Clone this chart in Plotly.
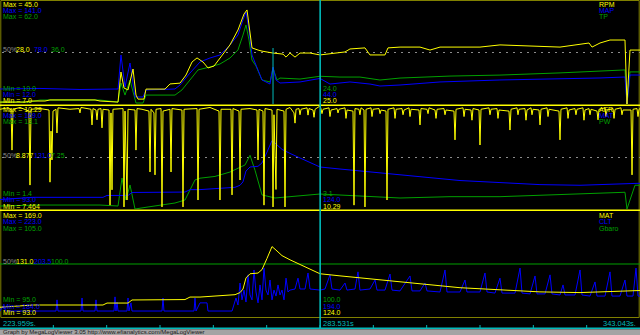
import plotly.graph_objects as go

# ---------------- data ----------------
T_START, T_END = 223.959, 343.043
CURSOR_T = 283.531
time_labels = ["223.959s.", "283.531s", "343.043s."]

# Panel 1
rpm_t = [223.96, 228.61, 229.54, 232.33, 233.26, 241.64, 242.57, 245.92, 246.47, 247.03, 247.78, 248.71,
         249.26, 249.64, 250.75, 251.13, 254.66, 255.59, 257.45, 258.57, 259.69, 260.62, 261.73, 262.66,
         263.78, 264.89, 266.75, 268.24, 269.36, 269.92, 270.48, 270.85, 271.97, 272.71, 274.76, 276.62,
         277.18, 277.92, 278.85, 279.78, 281.64, 283.50, 288.15, 289.08, 291.87, 292.80, 295.59, 296.15,
         298.39, 302.11, 303.97, 305.83, 313.27, 316.99, 328.16, 333.56, 334.12, 335.60, 337.46, 340.25,
         340.62, 341.18, 343.04]
rpm = [7.7, 7.7, 8.1, 8.1, 8.5, 8.5, 8.1, 7.7, 18.8, 12.9, 12.2, 19.9,
       10.3, 8.8, 8.8, 12.5, 12.5, 14.4, 14.7, 17.7, 22.5, 24.0, 22.5, 20.3,
       21.0, 24.0, 28.8, 34.3, 40.2, 41.7, 32.5, 27.7, 26.9, 26.5, 25.8, 25.4,
       24.3, 25.8, 24.3, 25.8, 25.8, 25.1, 26.2, 27.3, 27.7, 25.1, 25.1, 27.7,
       28.0, 28.0, 26.9, 28.0, 28.0, 28.8, 28.0, 29.5, 28.0, 29.5, 30.6, 30.6,
       7.0, 26.9, 26.9]

map_t = [223.96, 231.40, 238.84, 245.92, 246.47, 247.22, 248.15, 249.08, 250.57, 251.13, 256.52, 257.45,
         259.31, 261.17, 263.03, 264.89, 266.75, 268.24, 269.17, 269.73, 270.29, 270.85, 271.59, 272.71,
         274.20, 274.76, 275.31, 276.06, 279.78, 283.50, 285.36, 289.08, 292.80, 294.66, 298.39, 305.83,
         316.99, 328.16, 335.60, 340.25, 340.62, 341.18, 343.04]
map_kpa = [30.8, 31.5, 30.2, 30.8, 73.4, 33.3, 63.3, 20.8, 20.8, 29.5, 30.8, 35.8,
           50.8, 64.6, 69.6, 73.4, 85.9, 98.4, 117.2, 127.2, 104.7, 73.4, 60.8, 42.1,
           37.0, 58.3, 42.1, 38.3, 39.6, 44.0, 37.0, 39.6, 37.0, 34.5, 35.8, 39.6,
           42.1, 43.3, 44.6, 45.8, 12.0, 48.3, 48.3]

tp_t = [223.96, 229.54, 231.40, 242.57, 245.92, 246.47, 247.22, 248.15, 249.26, 250.57, 251.13, 256.52,
        257.82, 259.31, 260.80, 263.03, 264.89, 266.75, 268.24, 269.17, 269.73, 270.29, 270.85, 271.59,
        272.71, 274.20, 274.76, 275.50, 276.06, 279.78, 283.50, 287.22, 290.94, 294.66, 298.39, 307.69,
        316.99, 328.16, 335.60, 340.25, 340.62, 341.18, 343.04]
tp = [11.0, 11.0, 12.0, 12.0, 11.0, 20.6, 14.5, 22.1, 10.5, 10.5, 14.5, 14.5,
      17.1, 22.1, 27.2, 28.7, 30.2, 33.2, 37.3, 44.8, 49.9, 42.3, 32.2, 29.2,
      22.1, 21.1, 28.2, 22.1, 23.1, 22.6, 24.0, 23.6, 23.6, 22.1, 23.1, 24.1,
      24.6, 25.7, 26.7, 27.2, 10.0, 26.2, 26.2]

# Panel 2
afr_t = [223.96, 225.45, 226.01, 226.19, 226.38, 227.68, 229.35, 229.54, 229.73, 231.40, 233.08, 233.26,
         233.45, 233.63, 233.82, 234.38, 234.56, 234.75, 236.98, 238.66, 238.84, 239.03, 240.89, 241.08,
         241.26, 241.82, 242.01, 242.19, 242.75, 242.94, 243.12, 244.24, 244.43, 244.61, 244.80, 244.98,
         246.85, 247.03, 247.22, 247.59, 247.78, 249.08, 249.26, 249.45, 250.38, 251.68, 251.87, 252.06,
         252.61, 252.80, 252.99, 253.92, 254.10, 254.29, 255.59, 255.78, 255.96, 257.82, 258.01, 258.20,
         260.62, 260.80, 260.99, 263.03, 264.71, 264.89, 265.08, 266.94, 267.13, 267.31, 268.43, 268.62,
         268.80, 270.48, 271.78, 271.97, 272.15, 272.89, 273.08, 273.27, 274.57, 274.76, 274.94, 275.31,
         275.50, 276.80, 276.99, 277.18, 277.92, 278.66, 278.85, 279.04,
         279.59, 279.78, 279.97, 281.08, 281.27, 281.46, 282.20, 282.39, 282.58, 283.50,
         283.68, 283.87, 284.06, 285.17, 285.36, 285.55, 286.66, 286.85, 287.04, 288.15, 288.34, 288.53,
         289.64, 289.83, 290.01, 290.75, 290.94, 291.13, 291.69, 291.87, 292.06, 292.99, 293.18, 293.37,
         294.48, 294.67, 294.86, 295.78, 295.97, 296.15, 297.27, 297.46, 297.65, 298.76, 298.95, 299.14,
         300.06, 300.25, 300.44, 301.92, 302.11, 302.29, 303.41, 303.60, 303.79, 304.90, 305.09, 305.28,
         306.57, 306.76, 306.95, 308.43, 308.62, 308.81, 310.11, 310.30, 310.49, 311.59, 311.78, 311.97,
         313.09, 313.27, 313.46, 314.94, 315.13, 315.32, 316.43, 316.62, 316.81, 318.67, 318.85, 319.04,
         320.15, 320.34, 320.53, 321.64, 321.83, 322.02, 322.76, 322.95, 323.14, 324.25, 324.44, 324.62,
         325.74, 325.93, 326.12, 327.97, 328.16, 328.34, 329.46, 329.65, 329.84, 330.94, 331.13, 331.32,
         332.43, 332.62, 332.81, 333.55, 333.74, 333.93, 335.04, 335.23, 335.42, 336.53, 336.72, 336.91,
         338.02, 338.21, 338.40, 339.50, 339.69, 339.88, 341.37, 341.56, 341.74, 342.48, 342.67, 342.86,
         343.04]
afr = [10.20, 10.24, 10.18, 9.08, 10.20, 10.25, 10.15, 8.12, 10.20, 10.22, 10.18, 8.20,
       9.60, 8.81, 10.15, 10.20, 9.55, 10.24, 10.20, 10.22, 10.10, 10.25, 10.20, 9.77,
       10.22, 10.18, 9.91, 10.20, 10.22, 9.69, 10.20, 10.18, 7.57, 10.10, 7.99, 10.20,
       10.22, 7.52, 10.15, 7.71, 10.20, 10.18, 9.08, 10.22, 10.20, 10.15, 8.48, 10.20,
       10.10, 8.40, 10.20, 10.22, 7.52, 10.15, 10.20, 8.48, 10.22, 10.18, 7.52, 10.20,
       10.22, 7.71, 10.20, 10.25, 10.15, 7.71, 10.20, 10.20, 7.85, 10.22, 10.15, 8.26,
       10.20, 10.22, 10.18, 8.81, 10.20, 10.15, 7.57, 10.22, 10.18, 7.52, 10.05, 8.00,
       10.20, 10.15, 7.52, 10.20, 10.25, 10.10, 9.82, 10.20,
       10.22, 10.05, 10.20, 10.24, 10.04, 10.22, 10.18, 9.98, 10.20, 10.29,
       10.22, 10.08, 10.20, 10.24, 10.00, 10.18, 10.22, 10.10, 10.20, 10.24, 9.95, 10.18,
       10.15, 7.57, 10.22, 10.20, 10.05, 10.24, 10.18, 7.52, 10.20, 10.24, 10.00, 10.20,
       10.22, 10.08, 10.18, 10.15, 7.71, 10.20, 10.24, 9.95, 10.20, 10.22, 10.05, 10.18,
       10.24, 10.00, 10.20, 10.18, 9.77, 10.22, 10.20, 10.08, 10.24, 10.18, 9.95, 10.20,
       10.22, 10.05, 10.18, 10.15, 9.36, 10.20, 10.24, 10.00, 10.20, 10.18, 9.90, 10.22,
       10.18, 9.22, 10.20, 10.24, 10.05, 10.20, 10.22, 9.95, 10.18, 10.15, 9.63, 10.20,
       10.24, 10.05, 10.20, 10.22, 9.90, 10.18, 10.24, 10.05, 10.20, 10.18, 9.77, 10.20,
       10.24, 10.00, 10.20, 10.15, 9.36, 10.20, 10.24, 9.95, 10.18, 10.22, 10.05, 10.20,
       10.24, 9.90, 10.18, 10.22, 10.05, 10.20, 10.15, 9.91, 10.20, 10.24, 10.00, 10.18,
       10.22, 9.95, 10.20, 10.24, 10.05, 10.18, 10.18, 8.40, 10.20, 10.22, 10.00, 10.20,
       10.22]

mat_t = [223.96, 230.10, 243.12, 243.87, 247.78, 248.52, 258.38, 259.31, 261.17, 264.89, 267.69, 268.62,
         269.17, 269.73, 270.48, 271.97, 272.71, 273.64, 274.57, 275.31, 276.43, 277.92, 279.78, 281.64,
         283.50, 287.22, 290.94, 295.59, 298.39, 303.97, 309.55, 316.99, 324.43, 331.88, 337.46, 343.04]
mat = [100.0, 101.6, 101.6, 103.0, 103.0, 105.2, 105.5, 107.3, 107.3, 108.0, 109.0, 110.5,
       113.0, 121.0, 124.0, 124.5, 127.0, 135.0, 143.5, 141.0, 137.0, 134.0, 130.5, 127.0,
       124.0, 122.5, 121.0, 119.5, 118.0, 116.0, 114.0, 112.5, 111.0, 110.5, 111.0, 112.0]

pw_t = [223.96, 231.40, 242.57, 245.92, 246.66, 247.40, 248.15, 249.08, 251.50, 253.73, 256.52, 258.38,
        260.24, 261.17, 263.96, 266.75, 269.55, 270.48, 271.41, 272.71, 275.13, 279.78, 283.50, 298.39,
        307.69, 316.99, 328.16, 335.60, 340.25, 340.62, 342.11, 343.04]
pw = [1.74, 1.85, 1.85, 1.74, 4.92, 2.42, 4.13, 1.40, 1.63, 1.85, 2.08, 2.42,
      4.70, 4.90, 5.10, 5.60, 6.40, 7.50, 5.80, 3.00, 2.65, 2.90, 3.10, 2.65,
      2.80, 2.80, 3.00, 3.20, 3.30, 1.40, 4.10, 4.10]

# Panel 3
clt_t = [223.96, 224.52, 225.08, 234.38, 234.57, 234.75, 239.03, 239.22, 239.40, 241.64, 241.82, 242.01,
         245.17, 245.36, 245.54, 245.73, 245.92, 247.59, 247.78, 247.96, 248.33, 248.52, 254.10, 254.29,
         254.47, 260.06, 260.24, 260.43, 261.17, 262.48, 262.66, 267.13, 267.87, 268.24, 268.62, 268.99,
         269.36, 269.73, 270.10, 270.48, 270.85, 271.22, 271.59, 271.97, 272.34, 272.71, 273.08, 273.45,
         273.83, 274.20, 274.57, 274.94, 275.31, 275.69, 276.06, 276.43, 276.80, 277.18, 277.55, 277.92,
         278.85, 279.41, 279.78, 280.71, 281.27, 281.64, 283.50, 284.43, 285.36, 285.73, 287.22, 288.15,
         288.53, 290.01, 290.57, 290.94, 292.80, 293.74, 294.11, 295.59, 296.53, 296.90, 298.39, 300.25,
         300.62, 302.11, 303.04, 303.41, 305.83, 306.76, 307.13, 309.55, 310.48, 310.85, 313.27, 314.20,
         314.58, 316.06, 316.99, 317.37, 319.79, 320.72, 321.09, 322.58, 323.51, 323.88, 325.37, 326.30,
         326.67, 328.16, 328.72, 329.09, 330.95, 331.88, 332.25, 333.74, 334.67, 335.04, 336.53, 337.46,
         337.83, 339.32, 340.25, 340.62, 341.74, 342.30, 342.67, 343.04]
clt = [186.2, 188.0, 186.2, 186.2, 190.3, 186.2, 186.2, 191.0, 186.2, 186.2, 190.3, 186.2,
       186.2, 191.4, 186.2, 189.5, 186.2, 186.2, 191.0, 186.2, 189.2, 186.2, 186.2, 191.0,
       186.2, 186.2, 191.0, 186.2, 189.2, 189.2, 186.2, 186.2, 191.0, 188.4, 196.5, 190.3,
       193.9, 189.5, 199.5, 192.1, 190.3, 201.3, 193.2, 189.2, 195.8, 190.3, 202.0, 193.9,
       192.1, 197.6, 190.3, 193.9, 191.7, 195.8, 192.1, 193.9, 190.3, 198.3, 193.2, 193.9,
       194.3, 198.3, 194.3, 194.3, 200.2, 194.3, 193.9, 194.3, 199.5, 194.3, 193.9, 196.5,
       193.9, 194.3, 200.6, 193.9, 194.3, 197.6, 193.9, 193.9, 199.8, 193.9, 193.6, 199.1,
       193.6, 193.6, 196.5, 193.6, 193.2, 201.3, 193.2, 193.2, 197.6, 193.2, 193.2, 200.2,
       193.2, 192.8, 198.3, 192.8, 192.8, 202.0, 192.8, 192.5, 199.1, 192.5, 192.5, 199.5,
       192.5, 192.1, 195.8, 192.1, 192.1, 201.3, 192.1, 191.7, 196.9, 191.7, 191.7, 200.6,
       191.7, 191.7, 197.6, 191.7, 191.7, 202.0, 191.7, 191.7]

gbaro_t = [223.959, 343.043]
gbaro = [100.0, 100.0]

# Axis min/max per channel
ranges = {
    "TP": (10.0, 62.0), "MAP": (12.0, 141.0), "RPM": (7.0, 45.0),
    "PW": (1.4, 13.1), "MAT2": (93.0, 169.0), "AFR": (7.464, 10.29),
    "Gbaro": (95.0, 105.0), "CLT": (184.0, 223.0), "MAT": (93.0, 169.0),
}

# --------------- styling ---------------
W, H = 640, 335
YEL, BLU, GRN = "#FFFF00", "#0000FF", "#00A000"
GRAY, OLIVE, CYAN = "#8C8C8C", "#808000", "#00BABA"
FONT = "Liberation Sans"

panels = {1: (1, 104), 2: (106, 209), 3: (211, 317)}


def ypx(py):
    return 1 - py / H


def dom(p):
    top, bot = panels[p]
    return [ypx(bot), ypx(top)]


fig = go.Figure()
series = [
    (tp_t, tp, GRN, "y"), (map_t, map_kpa, BLU, "y2"), (rpm_t, rpm, YEL, "y3"),
    (pw_t, pw, GRN, "y4"), (mat_t, mat, BLU, "y5"), (afr_t, afr, YEL, "y6"),
    (gbaro_t, gbaro, GRN, "y7"), (clt_t, clt, BLU, "y8"), (mat_t, mat, YEL, "y9"),
]
for xs, ys, col, ax in series:
    fig.add_trace(go.Scatter(x=xs, y=ys, mode="lines", line=dict(color=col, width=1),
                             yaxis=ax, xaxis="x", hoverinfo="skip", showlegend=False))

ax_common = dict(visible=False, fixedrange=True, showgrid=False, zeroline=False)
order = ["TP", "MAP", "RPM", "PW", "MAT2", "AFR", "Gbaro", "CLT", "MAT"]
layout_axes = {}
for i, key in enumerate(order):
    name = "yaxis" if i == 0 else f"yaxis{i + 1}"
    spec = dict(ax_common, range=list(ranges[key]), anchor="x")
    p = i // 3 + 1
    base = i - i % 3
    if i % 3 == 0:
        spec["domain"] = dom(p)
    else:
        spec["overlaying"] = "y" if base == 0 else f"y{base + 1}"
    layout_axes[name] = spec

fig.update_layout(
    width=W, height=H, margin=dict(l=0, r=0, t=0, b=0),
    paper_bgcolor="#000000", plot_bgcolor="rgba(0,0,0,0)",
    xaxis=dict(ax_common, domain=[0, 1], range=[T_START, T_END]),
    **layout_axes,
)

shapes = []
# frame
shapes.append(dict(type="rect", xref="paper", yref="paper", x0=0.8 / W, x1=1 - 0.8 / W,
                   y0=ypx(317.5), y1=ypx(0.5), line=dict(color=OLIVE, width=1), layer="below"))
# 50% dashed lines (panel 3's is hidden under the Gbaro trace)
for p in (1, 2):
    top, bot = panels[p]
    mid = (top + bot) / 2
    shapes.append(dict(type="line", xref="paper", yref="paper", x0=2 / W, x1=1, y0=ypx(mid), y1=ypx(mid),
                       line=dict(color=GRAY, width=1, dash="2px,5px"), layer="below"))
# panel separators
for py in (105.3, 210.3):
    shapes.append(dict(type="line", xref="paper", yref="paper", x0=0, x1=1, y0=ypx(py), y1=ypx(py),
                       line=dict(color=YEL, width=1.6), layer="above"))
# secondary marker line in panel 1
shapes.append(dict(type="line", xref="x", yref="paper", x0=274.76, x1=274.76, y0=ypx(104), y1=ypx(48),
                   line=dict(color=CYAN, width=1), layer="above"))
# cursor
shapes.append(dict(type="line", xref="x", yref="paper", x0=CURSOR_T, x1=CURSOR_T, y0=ypx(328), y1=1,
                   line=dict(color=CYAN, width=1.6), layer="above"))
# time bar line and ticks
shapes.append(dict(type="line", xref="paper", yref="paper", x0=0, x1=1, y0=ypx(328.3), y1=ypx(328.3),
                   line=dict(color=CYAN, width=1.6), layer="above"))
for k in range(1, 12):
    xx = k / 12
    shapes.append(dict(type="line", xref="paper", yref="paper", x0=xx, x1=xx, y0=ypx(328), y1=ypx(325),
                       line=dict(color=CYAN, width=1), layer="above"))
# footer bar
shapes.append(dict(type="rect", xref="paper", yref="paper", x0=0, x1=1, y0=0, y1=ypx(329.2),
                   line=dict(width=0), fillcolor="#A4A4A4", layer="above"))
fig.update_layout(shapes=shapes)

anns = [
    # panel 1
    ("Max = 45.0", 2, 4.5, YEL), ("Max = 141.0", 2, 10.5, BLU), ("Max = 62.0", 2, 16.5, GRN),
    ("50%", 2, 50, GRAY), ("28.0", 15, 50, YEL), ("78.0", 33, 50, BLU), ("36.0", 50, 50, GRN),
    ("Min = 10.0", 2, 88.5, GRN), ("Min = 12.0", 2, 94.5, BLU), ("Min = 7.0", 2, 100.5, YEL),
    ("RPM", 598, 4.5, YEL), ("MAP", 598, 10.5, BLU), ("TP", 598, 16.5, GRN),
    ("24.0", 322, 88.5, GRN), ("44.0", 322, 94.5, BLU), ("25.0", 322, 100.5, YEL),
    # panel 2
    ("Max = 10.29", 2, 109.5, YEL), ("Max = 169.0", 2, 115.5, BLU), ("Max = 13.1", 2, 121.5, GRN),
    ("50%", 2, 156, GRAY), ("8.877", 15, 156, YEL), ("131.0", 33, 156, BLU), ("7.25", 50, 156, GRN),
    ("Min = 1.4", 2, 193.5, GRN), ("Min = 93.0", 2, 200, BLU), ("Min = 7.464", 2, 206.5, YEL),
    ("AFR", 598, 109.5, YEL), ("MAT", 598, 115.5, BLU), ("PW", 598, 121.5, GRN),
    ("3.1", 322, 193.5, GRN), ("124.0", 322, 200, BLU), ("10.29", 322, 206.5, YEL),
    # panel 3
    ("Max = 169.0", 2, 215, YEL), ("Max = 223.0", 2, 221.5, BLU), ("Max = 105.0", 2, 228, GRN),
    ("50%", 2, 261, GRAY), ("131.0", 15, 261, YEL), ("203.5", 33, 261, BLU), ("100.0", 50, 261, GRN),
    ("Min = 95.0", 2, 299.5, GRN), ("Min = 184.0", 2, 306, BLU), ("Min = 93.0", 2, 312.5, YEL),
    ("MAT", 598, 215, YEL), ("CLT", 598, 221.5, BLU), ("Gbaro", 598, 228, GRN),
    ("100.0", 322, 299.5, GRN), ("194.0", 322, 306, BLU), ("124.0", 322, 312.5, YEL),
]
annotations = []
for text, px, py, col in anns:
    annotations.append(dict(text=text, x=px / W, y=ypx(py), xref="paper", yref="paper",
                            xanchor="left", yanchor="middle", showarrow=False, borderpad=0,
                            font=dict(family=FONT, size=7, color=col)))
# time labels
annotations.append(dict(text=time_labels[0], x=2 / W, y=ypx(323.5), xref="paper", yref="paper",
                        xanchor="left", yanchor="middle", showarrow=False, borderpad=0,
                        font=dict(family=FONT, size=7.5, color=CYAN)))
annotations.append(dict(text=time_labels[1], x=CURSOR_T, y=ypx(323.5), xref="x", yref="paper",
                        xanchor="left", yanchor="middle", showarrow=False, borderpad=0, xshift=2,
                        font=dict(family=FONT, size=7.5, color=CYAN)))
annotations.append(dict(text=time_labels[2], x=637 / W, y=ypx(323.5), xref="paper", yref="paper",
                        xanchor="right", yanchor="middle", showarrow=False, borderpad=0,
                        font=dict(family=FONT, size=7.5, color=CYAN)))
annotations.append(dict(text="Graph by MegaLogViewer 3.05 http://www.efianalytics.com/MegaLogViewer",
                        x=2 / W, y=ypx(332.3), xref="paper", yref="paper", xanchor="left",
                        yanchor="middle", showarrow=False, borderpad=0,
                        font=dict(family=FONT, size=6, color="#1A1A1A")))
fig.update_layout(annotations=annotations)

fig.write_html("out.html", config={"displayModeBar": False})
